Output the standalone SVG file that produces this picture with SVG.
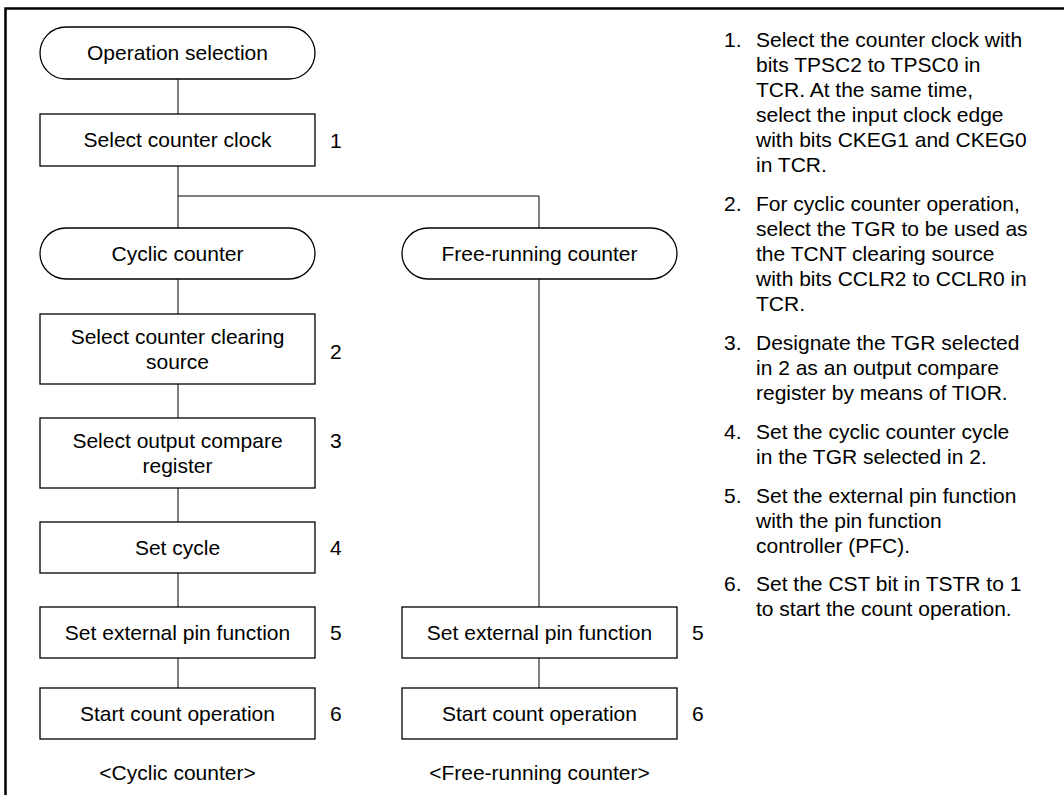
<svg xmlns="http://www.w3.org/2000/svg" width="1064" height="795" viewBox="0 0 1064 795">
<style>
text{font-family:"Liberation Sans",Arial,sans-serif;font-size:21px;fill:#000}
.c{text-anchor:middle}
.box{fill:#fff;stroke:#000;stroke-width:1.3}
.ln{stroke:#000;stroke-width:1;fill:none}
</style>
<rect width="1064" height="795" fill="#fff"/>
<path d="M5.5 795 V8.5 H1064" fill="none" stroke="#000" stroke-width="2.5"/>
<g id="connectors" class="ln">
<path d="M178 79 V114"/>
<path d="M178 166 V228"/>
<path d="M178 196 H539 V228"/>
<path d="M178 279 V314"/>
<path d="M178 384 V418"/>
<path d="M178 488 V522"/>
<path d="M178 573 V607"/>
<path d="M178 658 V688"/>
<path d="M539 279 V607"/>
<path d="M539 658 V688"/>
</g>
<g id="op-sel"><rect class="box" x="40" y="27" width="275" height="52" rx="26"/><text class="c" x="177.5" y="60">Operation selection</text></g>
<g id="sel-clock"><rect class="box" x="40" y="114" width="275" height="52"/><text class="c" x="177.5" y="147">Select counter clock</text><text x="330" y="148">1</text></g>
<g id="cyclic"><rect class="box" x="40" y="228" width="275" height="51" rx="26"/><text class="c" x="177.5" y="261">Cyclic counter</text></g>
<g id="free"><rect class="box" x="402" y="228" width="275" height="51" rx="26"/><text class="c" x="539.5" y="261">Free-running counter</text></g>
<g id="sel-clear"><rect class="box" x="40" y="314" width="275" height="70"/><text class="c" x="177.5" y="344">Select counter clearing</text><text class="c" x="177.5" y="369">source</text><text x="330" y="359">2</text></g>
<g id="sel-oc"><rect class="box" x="40" y="418" width="275" height="70"/><text class="c" x="177.5" y="448">Select output compare</text><text class="c" x="177.5" y="473">register</text><text x="330" y="448">3</text></g>
<g id="set-cycle"><rect class="box" x="40" y="522" width="275" height="51"/><text class="c" x="177.5" y="555">Set cycle</text><text x="330" y="555">4</text></g>
<g id="ext-pin-c"><rect class="box" x="40" y="607" width="275" height="51"/><text class="c" x="177.5" y="640">Set external pin function</text><text x="330" y="640">5</text></g>
<g id="start-c"><rect class="box" x="40" y="688" width="275" height="51"/><text class="c" x="177.5" y="721">Start count operation</text><text x="330" y="721">6</text></g>
<g id="ext-pin-f"><rect class="box" x="402" y="607" width="275" height="51"/><text class="c" x="539.5" y="640">Set external pin function</text><text x="692" y="640">5</text></g>
<g id="start-f"><rect class="box" x="402" y="688" width="275" height="51"/><text class="c" x="539.5" y="721">Start count operation</text><text x="692" y="721">6</text></g>
<text class="c" x="177.5" y="780">&lt;Cyclic counter&gt;</text>
<text class="c" x="539.5" y="780">&lt;Free-running counter&gt;</text>
<g id="notes">
<text x="724" y="47">1.</text>
<text x="756" y="47">Select the counter clock with</text>
<text x="756" y="72">bits TPSC2 to TPSC0 in</text>
<text x="756" y="97">TCR. At the same time,</text>
<text x="756" y="122">select the input clock edge</text>
<text x="756" y="147">with bits CKEG1 and CKEG0</text>
<text x="756" y="172">in TCR.</text>
<text x="724" y="211">2.</text>
<text x="756" y="211">For cyclic counter operation,</text>
<text x="756" y="236">select the TGR to be used as</text>
<text x="756" y="261">the TCNT clearing source</text>
<text x="756" y="286">with bits CCLR2 to CCLR0 in</text>
<text x="756" y="311">TCR.</text>
<text x="724" y="350">3.</text>
<text x="756" y="350">Designate the TGR selected</text>
<text x="756" y="375">in 2 as an output compare</text>
<text x="756" y="400">register by means of TIOR.</text>
<text x="724" y="439">4.</text>
<text x="756" y="439">Set the cyclic counter cycle</text>
<text x="756" y="464">in the TGR selected in 2.</text>
<text x="724" y="503">5.</text>
<text x="756" y="503">Set the external pin function</text>
<text x="756" y="528">with the pin function</text>
<text x="756" y="553">controller (PFC).</text>
<text x="724" y="591">6.</text>
<text x="756" y="591">Set the CST bit in TSTR to 1</text>
<text x="756" y="616">to start the count operation.</text>
</g>
</svg>
